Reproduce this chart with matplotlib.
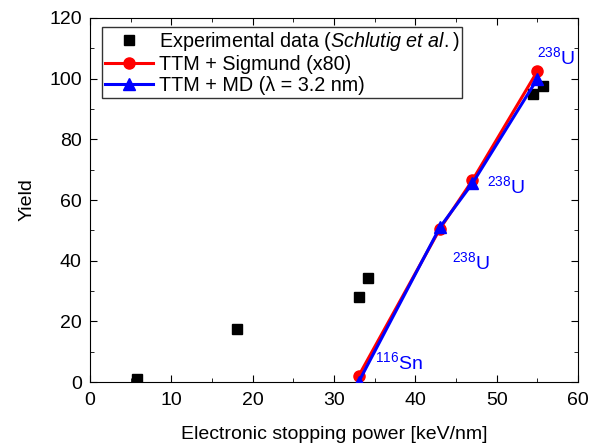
import matplotlib
matplotlib.use("Agg")
import matplotlib.pyplot as plt
from matplotlib.ticker import MultipleLocator

plt.rcParams['font.family'] = ['Liberation Sans', 'DejaVu Sans']
plt.rcParams['mathtext.fontset'] = 'custom'
plt.rcParams['mathtext.rm'] = 'Liberation Sans'
plt.rcParams['mathtext.it'] = 'Liberation Sans:italic'

exp_x = [5.8, 18.1, 33.0, 34.1, 54.4, 55.7]
exp_y = [1.0, 17.5, 28.0, 34.3, 95.0, 97.5]
sig_x = [33.0, 43.0, 47.0, 55.0]
sig_y = [2.0, 50.5, 66.5, 102.5]
md_x = [33.0, 43.0, 47.0, 55.0]
md_y = [0.0, 51.0, 65.5, 100.0]
ion_labels = [r'$^{116}$Sn', r'$^{238}$U', r'$^{238}$U', r'$^{238}$U']
ion_pos = [(35.0, 3.0), (44.5, 36.0), (48.8, 61.0), (55.0, 103.5)]

fig = plt.figure(figsize=(6.01, 4.48), dpi=100)
ax = fig.add_axes([0.150, 0.147, 0.812, 0.813])

ax.plot(exp_x, exp_y, 's', color='black', markersize=7.5, linestyle='none',
        label='Experimental data ($\\it{Schlutig\\ et\\ al.}$)', zorder=3)
ax.plot(sig_x, sig_y, '-o', color='red', lw=2.2, markersize=8,
        label='TTM + Sigmund (x80)', zorder=4)
ax.plot(md_x, md_y, '-^', color='blue', lw=2.2, markersize=8,
        label='TTM + MD (λ = 3.2 nm)', zorder=5)

for lab, (x, y) in zip(ion_labels, ion_pos):
    ax.text(x, y, lab, color='blue', fontsize=14, ha='left', va='bottom')

ax.set_xlim(0, 60)
ax.set_ylim(0, 120)
ax.xaxis.set_major_locator(MultipleLocator(10))
ax.xaxis.set_minor_locator(MultipleLocator(5))
ax.yaxis.set_major_locator(MultipleLocator(20))
ax.yaxis.set_minor_locator(MultipleLocator(10))
ax.tick_params(which='both', direction='in', top=True, right=True, labelsize=14)
ax.tick_params(which='major', length=5)
ax.tick_params(which='minor', length=3)
ax.tick_params(axis='x', pad=7)
ax.tick_params(axis='y', pad=6)

ax.set_xlabel('Electronic stopping power [keV/nm]', fontsize=14, labelpad=12)
ax.set_ylabel('Yield', fontsize=14, labelpad=10)

leg = ax.legend(loc='upper left', fontsize=14.2, frameon=True, fancybox=False,
                edgecolor='black', bbox_to_anchor=(0.025, 0.975), borderaxespad=0.0,
                handlelength=2.4, borderpad=0.15, labelspacing=0.1,
                handletextpad=0.3)
leg.get_frame().set_linewidth(1.0)

fig.savefig('out.png', dpi=100)
